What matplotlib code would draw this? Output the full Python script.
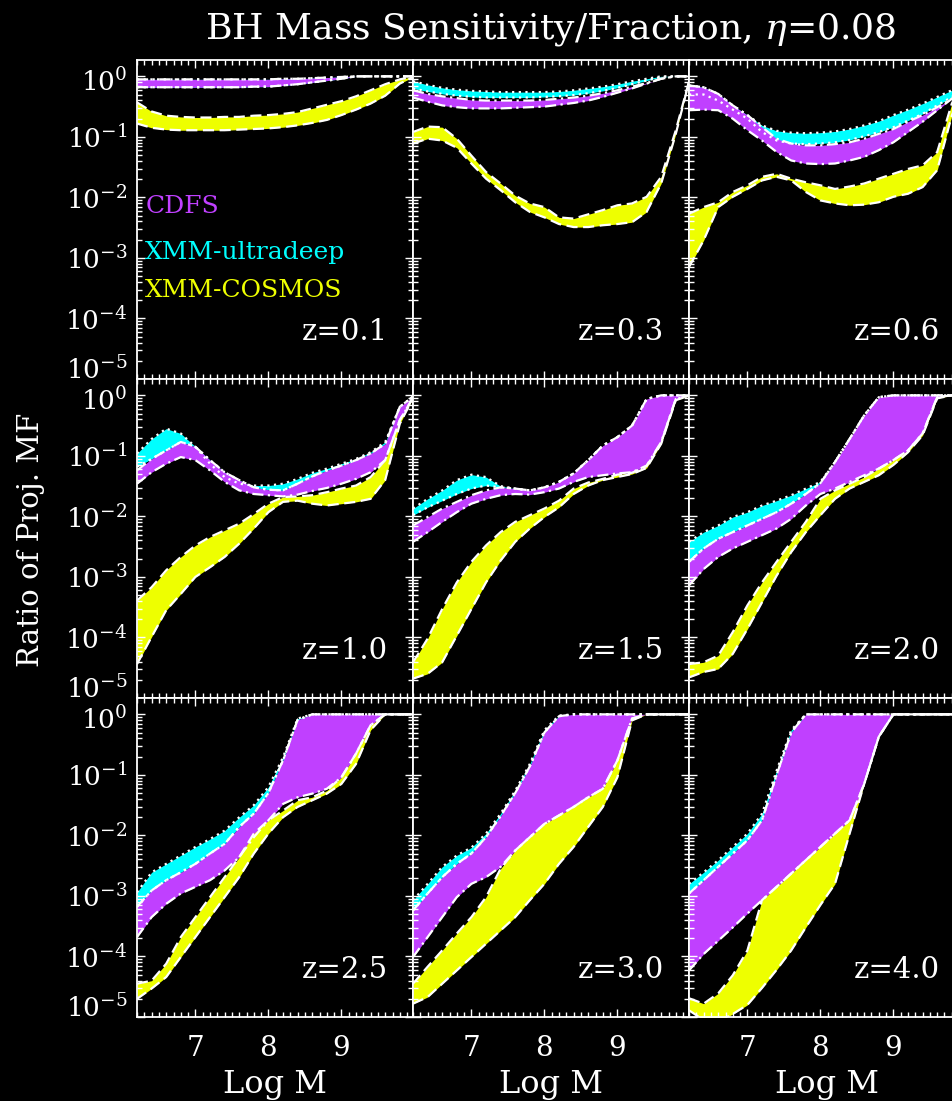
import matplotlib

matplotlib.use("Agg")
import matplotlib.pyplot as plt
import matplotlib.transforms as mtransforms
import numpy as np
from matplotlib.ticker import FixedLocator, LogLocator, MultipleLocator, NullFormatter

# Log M grid shared by every panel
log_m = [6.2, 6.4, 6.6, 6.8, 7.0, 7.2, 7.4, 7.6, 7.8, 8.0,
         8.2, 8.4, 8.6, 8.8, 9.0, 9.2, 9.4, 9.6, 9.8, 10.0]

redshifts = ["0.1", "0.3", "0.6", "1.0", "1.5", "2.0", "2.5", "3.0", "4.0"]

# log10 of the ratio, upper (hi) and lower (lo) edge of each band
# z = 0.1
z01_ultra_hi = [-0.05, -0.05, -0.05, -0.05, -0.05, -0.05, -0.05, -0.05, -0.05, -0.05, -0.04, -0.04, -0.03, -0.02, -0.01, 0, 0, 0, 0, 0]
z01_ultra_lo = [-0.18, -0.18, -0.18, -0.18, -0.18, -0.18, -0.18, -0.18, -0.17, -0.17, -0.15, -0.13, -0.10, -0.07, -0.04, 0, 0, 0, 0, 0]
z01_cdfs_hi = [-0.05, -0.05, -0.05, -0.05, -0.05, -0.05, -0.05, -0.05, -0.05, -0.05, -0.04, -0.04, -0.03, -0.02, -0.01, 0, 0, 0, 0, 0]
z01_cdfs_lo = [-0.18, -0.18, -0.18, -0.18, -0.18, -0.18, -0.18, -0.18, -0.17, -0.17, -0.15, -0.13, -0.10, -0.07, -0.04, 0, 0, 0, 0, 0]
z01_cosmos_hi = [-0.43, -0.58, -0.65, -0.67, -0.68, -0.68, -0.67, -0.67, -0.65, -0.64, -0.62, -0.59, -0.53, -0.47, -0.41, -0.33, -0.23, -0.13, -0.05, 0]
z01_cosmos_lo = [-0.78, -0.85, -0.88, -0.89, -0.89, -0.89, -0.89, -0.88, -0.87, -0.86, -0.84, -0.81, -0.77, -0.72, -0.64, -0.55, -0.45, -0.32, -0.12, 0]
# z = 0.3
z03_ultra_hi = [-0.08, -0.14, -0.19, -0.22, -0.24, -0.25, -0.26, -0.26, -0.26, -0.26, -0.25, -0.23, -0.20, -0.17, -0.13, -0.08, -0.04, 0, 0, 0]
z03_ultra_lo = [-0.20, -0.25, -0.29, -0.32, -0.34, -0.35, -0.35, -0.35, -0.35, -0.34, -0.33, -0.31, -0.28, -0.24, -0.19, -0.13, -0.07, -0.01, 0, 0]
z03_cdfs_hi = [-0.23, -0.29, -0.33, -0.36, -0.39, -0.40, -0.40, -0.40, -0.40, -0.39, -0.37, -0.35, -0.32, -0.28, -0.23, -0.17, -0.11, -0.04, 0, 0]
z03_cdfs_lo = [-0.35, -0.42, -0.48, -0.51, -0.53, -0.53, -0.53, -0.52, -0.51, -0.50, -0.47, -0.44, -0.40, -0.34, -0.27, -0.20, -0.12, -0.04, 0, 0]
z03_cosmos_hi = [-0.92, -0.83, -0.84, -1.03, -1.31, -1.58, -1.77, -1.97, -2.10, -2.16, -2.33, -2.35, -2.28, -2.21, -2.13, -2.10, -1.99, -1.66, -0.89, 0]
z03_cosmos_lo = [-1.11, -1.03, -1.06, -1.18, -1.44, -1.69, -1.88, -2.08, -2.24, -2.33, -2.44, -2.49, -2.49, -2.46, -2.44, -2.41, -2.24, -1.77, -0.95, 0]
# z = 0.6
z06_ultra_hi = [-0.15, -0.18, -0.29, -0.48, -0.64, -0.81, -0.90, -0.93, -0.94, -0.93, -0.91, -0.87, -0.81, -0.74, -0.64, -0.55, -0.45, -0.34, -0.23, -0.15]
z06_ultra_lo = [-0.30, -0.30, -0.40, -0.55, -0.70, -0.92, -1.06, -1.11, -1.12, -1.11, -1.09, -1.05, -0.99, -0.92, -0.84, -0.73, -0.62, -0.48, -0.34, -0.20]
z06_cdfs_hi = [-0.15, -0.18, -0.29, -0.48, -0.64, -0.84, -1.03, -1.11, -1.14, -1.14, -1.12, -1.09, -1.03, -0.95, -0.87, -0.75, -0.64, -0.51, -0.37, -0.23]
z06_cdfs_lo = [-0.56, -0.55, -0.56, -0.70, -0.89, -1.06, -1.25, -1.39, -1.44, -1.45, -1.44, -1.39, -1.33, -1.22, -1.09, -0.92, -0.75, -0.56, -0.37, -0.20]
z06_cosmos_hi = [-2.27, -2.16, -2.08, -1.91, -1.80, -1.66, -1.61, -1.69, -1.75, -1.80, -1.86, -1.82, -1.77, -1.69, -1.61, -1.53, -1.47, -1.25, -0.45, 0]
z06_cosmos_lo = [-3.15, -2.71, -2.16, -1.99, -1.86, -1.72, -1.66, -1.72, -1.91, -2.05, -2.10, -2.13, -2.12, -2.08, -1.99, -1.94, -1.83, -1.55, -0.65, 0]
# z = 1.0
z10_ultra_hi = [-0.96, -0.72, -0.55, -0.63, -0.85, -1.13, -1.35, -1.46, -1.49, -1.49, -1.46, -1.38, -1.28, -1.21, -1.13, -1.05, -0.94, -0.77, -0.19, 0]
z10_ultra_lo = [-1.18, -1.05, -0.91, -0.77, -0.85, -1.07, -1.27, -1.40, -1.52, -1.56, -1.57, -1.46, -1.34, -1.24, -1.16, -1.07, -0.96, -0.80, -0.19, 0]
z10_cdfs_hi = [-1.24, -1.05, -0.91, -0.77, -0.85, -1.07, -1.27, -1.40, -1.52, -1.56, -1.57, -1.46, -1.34, -1.24, -1.16, -1.07, -0.96, -0.80, -0.19, 0]
z10_cdfs_lo = [-1.46, -1.27, -1.13, -1.02, -1.07, -1.24, -1.43, -1.57, -1.63, -1.65, -1.67, -1.64, -1.58, -1.53, -1.46, -1.38, -1.27, -1.07, -0.41, 0]
z10_cosmos_hi = [-3.39, -3.17, -2.89, -2.67, -2.48, -2.34, -2.23, -2.12, -1.96, -1.79, -1.68, -1.67, -1.65, -1.60, -1.54, -1.49, -1.35, -1.07, -0.41, 0]
z10_cosmos_lo = [-4.44, -3.99, -3.55, -3.28, -3.00, -2.84, -2.67, -2.45, -2.20, -1.93, -1.76, -1.74, -1.79, -1.82, -1.79, -1.76, -1.71, -1.40, -0.47, 0]
# z = 1.5
z15_ultra_hi = [-1.87, -1.71, -1.57, -1.40, -1.31, -1.35, -1.50, -1.54, -1.57, -1.52, -1.43, -1.29, -1.07, -0.83, -0.69, -0.50, -0.06, 0, 0, 0]
z15_ultra_lo = [-1.98, -1.85, -1.74, -1.63, -1.54, -1.49, -1.52, -1.54, -1.57, -1.52, -1.43, -1.29, -1.07, -0.83, -0.69, -0.50, -0.06, 0, 0, 0]
z15_cdfs_hi = [-2.15, -2.01, -1.87, -1.76, -1.65, -1.57, -1.52, -1.54, -1.57, -1.52, -1.43, -1.29, -1.07, -0.83, -0.69, -0.50, -0.06, 0, 0, 0]
z15_cdfs_lo = [-2.42, -2.26, -2.09, -1.93, -1.79, -1.71, -1.65, -1.63, -1.64, -1.60, -1.54, -1.43, -1.35, -1.32, -1.29, -1.27, -1.16, -0.77, -0.06, 0]
z15_cosmos_hi = [-4.41, -4.02, -3.53, -3.09, -2.75, -2.48, -2.26, -2.09, -1.98, -1.87, -1.74, -1.54, -1.44, -1.38, -1.31, -1.28, -1.17, -0.78, -0.06, 0]
z15_cosmos_lo = [-4.68, -4.60, -4.41, -3.97, -3.53, -3.09, -2.73, -2.42, -2.20, -2.01, -1.85, -1.63, -1.49, -1.40, -1.35, -1.30, -1.20, -0.80, -0.08, 0]
# z = 2.0
z20_ultra_hi = [-2.42, -2.26, -2.15, -2.01, -1.93, -1.82, -1.74, -1.65, -1.54, -1.43, -1.10, -0.72, -0.33, -0.03, 0, 0, 0, 0, 0, 0]
z20_ultra_lo = [-2.75, -2.53, -2.37, -2.26, -2.15, -2.04, -1.93, -1.79, -1.63, -1.45, -1.10, -0.72, -0.33, -0.03, 0, 0, 0, 0, 0, 0]
z20_cdfs_hi = [-2.75, -2.53, -2.37, -2.26, -2.15, -2.04, -1.93, -1.79, -1.63, -1.45, -1.10, -0.72, -0.33, -0.03, 0, 0, 0, 0, 0, 0]
z20_cdfs_lo = [-3.14, -2.87, -2.67, -2.53, -2.42, -2.31, -2.20, -2.04, -1.82, -1.63, -1.54, -1.43, -1.32, -1.21, -1.07, -0.91, -0.63, -0.03, 0, 0]
z20_cosmos_hi = [-4.44, -4.41, -4.30, -3.91, -3.47, -3.09, -2.75, -2.42, -2.09, -1.71, -1.57, -1.46, -1.35, -1.21, -1.07, -0.91, -0.63, -0.03, 0, 0]
z20_cosmos_lo = [-4.66, -4.57, -4.52, -4.27, -3.86, -3.42, -2.98, -2.59, -2.26, -1.98, -1.71, -1.54, -1.43, -1.32, -1.15, -0.94, -0.66, -0.05, 0, 0]
# z = 2.5
z25_ultra_hi = [-2.94, -2.61, -2.47, -2.33, -2.19, -2.06, -1.92, -1.70, -1.50, -1.20, -0.71, -0.07, 0, 0, 0, 0, 0, 0, 0, 0]
z25_ultra_lo = [-3.18, -2.91, -2.74, -2.61, -2.47, -2.30, -2.14, -1.86, -1.64, -1.30, -0.76, -0.09, 0, 0, 0, 0, 0, 0, 0, 0]
z25_cdfs_hi = [-3.18, -2.91, -2.74, -2.61, -2.47, -2.30, -2.14, -1.86, -1.64, -1.30, -0.76, -0.09, 0, 0, 0, 0, 0, 0, 0, 0]
z25_cdfs_lo = [-3.68, -3.35, -3.13, -2.96, -2.85, -2.74, -2.58, -2.36, -2.03, -1.75, -1.48, -1.37, -1.31, -1.23, -1.04, -0.65, -0.18, 0, 0, 0]
z25_cosmos_hi = [-4.45, -4.40, -4.12, -3.68, -3.35, -3.02, -2.69, -2.36, -1.97, -1.75, -1.59, -1.42, -1.37, -1.26, -1.04, -0.65, -0.18, 0, 0, 0]
z25_cosmos_lo = [-4.70, -4.53, -4.34, -4.01, -3.68, -3.35, -3.02, -2.69, -2.30, -1.97, -1.70, -1.53, -1.42, -1.31, -1.15, -0.82, -0.26, 0, 0, 0]
# z = 3.0
z30_ultra_hi = [-3.07, -2.80, -2.52, -2.33, -2.20, -1.97, -1.64, -1.26, -0.82, -0.26, -0.02, 0, 0, 0, 0, 0, 0, 0, 0, 0]
z30_ultra_lo = [-3.24, -2.96, -2.69, -2.47, -2.30, -2.03, -1.68, -1.30, -0.86, -0.30, -0.03, 0, 0, 0, 0, 0, 0, 0, 0, 0]
z30_cdfs_hi = [-3.24, -2.96, -2.69, -2.47, -2.30, -2.03, -1.68, -1.30, -0.86, -0.30, -0.03, 0, 0, 0, 0, 0, 0, 0, 0, 0]
z30_cdfs_lo = [-4.01, -3.68, -3.35, -3.02, -2.80, -2.69, -2.52, -2.25, -2.03, -1.81, -1.67, -1.53, -1.37, -1.23, -0.76, -0.07, 0, 0, 0, 0]
z30_cosmos_hi = [-4.45, -4.17, -3.90, -3.62, -3.35, -3.02, -2.55, -2.25, -2.03, -1.81, -1.67, -1.53, -1.37, -1.23, -0.76, -0.07, 0, 0, 0, 0]
z30_cosmos_lo = [-4.78, -4.67, -4.45, -4.23, -4.01, -3.79, -3.57, -3.35, -3.07, -2.80, -2.47, -2.19, -1.86, -1.53, -1.04, -0.10, 0, 0, 0, 0]
# z = 4.0
z40_ultra_hi = [-2.80, -2.61, -2.41, -2.19, -1.97, -1.64, -0.93, -0.26, 0, 0, 0, 0, 0, 0, 0, 0, 0, 0, 0, 0]
z40_ultra_lo = [-2.96, -2.74, -2.52, -2.30, -2.08, -1.75, -1.00, -0.30, 0, 0, 0, 0, 0, 0, 0, 0, 0, 0, 0, 0]
z40_cdfs_hi = [-2.96, -2.74, -2.52, -2.30, -2.08, -1.75, -1.00, -0.30, 0, 0, 0, 0, 0, 0, 0, 0, 0, 0, 0, 0]
z40_cdfs_lo = [-4.23, -3.96, -3.74, -3.52, -3.29, -3.07, -2.85, -2.63, -2.41, -2.19, -1.97, -1.75, -1.15, -0.37, 0, 0, 0, 0, 0, 0]
z40_cosmos_hi = [-4.69, -4.78, -4.61, -4.31, -3.90, -3.07, -2.85, -2.63, -2.41, -2.19, -1.97, -1.75, -1.15, -0.37, 0, 0, 0, 0, 0, 0]
z40_cosmos_lo = [-4.89, -5.05, -5.08, -4.95, -4.80, -4.52, -4.22, -3.90, -3.52, -3.15, -2.80, -1.97, -1.15, -0.37, 0, 0, 0, 0, 0, 0]

ultra_hi = [z01_ultra_hi, z03_ultra_hi, z06_ultra_hi, z10_ultra_hi, z15_ultra_hi, z20_ultra_hi, z25_ultra_hi, z30_ultra_hi, z40_ultra_hi]
ultra_lo = [z01_ultra_lo, z03_ultra_lo, z06_ultra_lo, z10_ultra_lo, z15_ultra_lo, z20_ultra_lo, z25_ultra_lo, z30_ultra_lo, z40_ultra_lo]
cdfs_hi = [z01_cdfs_hi, z03_cdfs_hi, z06_cdfs_hi, z10_cdfs_hi, z15_cdfs_hi, z20_cdfs_hi, z25_cdfs_hi, z30_cdfs_hi, z40_cdfs_hi]
cdfs_lo = [z01_cdfs_lo, z03_cdfs_lo, z06_cdfs_lo, z10_cdfs_lo, z15_cdfs_lo, z20_cdfs_lo, z25_cdfs_lo, z30_cdfs_lo, z40_cdfs_lo]
cosmos_hi = [z01_cosmos_hi, z03_cosmos_hi, z06_cosmos_hi, z10_cosmos_hi, z15_cosmos_hi, z20_cosmos_hi, z25_cosmos_hi, z30_cosmos_hi, z40_cosmos_hi]
cosmos_lo = [z01_cosmos_lo, z03_cosmos_lo, z06_cosmos_lo, z10_cosmos_lo, z15_cosmos_lo, z20_cosmos_lo, z25_cosmos_lo, z30_cosmos_lo, z40_cosmos_lo]

# (name, colour, edge linestyle, hi, lo) in drawing order
surveys = [
    ("XMM-ultradeep", "#00ffff", (0, (1, 2)), ultra_hi, ultra_lo),
    ("CDFS", "#c040ff", (0, (5, 2, 1, 2)), cdfs_hi, cdfs_lo),
    ("XMM-COSMOS", "#eeff00", (0, (5, 2.5)), cosmos_hi, cosmos_lo),
]

plt.rcParams["font.family"] = ["DejaVu Serif"]
plt.rcParams["mathtext.fontset"] = "dejavuserif"

W, H = 953, 1101
LEFT, TOP, PW, PH = 137, 60, 276, 319
X_UNIT = 73.0

fig = plt.figure(figsize=(W / 100, H / 100), dpi=100, facecolor="black")

for i, z in enumerate(redshifts):
    fila, col = divmod(i, 3)
    ax = fig.add_axes([
        (LEFT + col * PW) / W,
        1 - (TOP + (fila + 1) * PH) / H,
        PW / W,
        PH / H,
    ])
    ax.set_facecolor("black")

    for nombre, color, estilo, hi, lo in surveys:
        y_hi = 10.0 ** np.array(hi[i])
        y_lo = 10.0 ** np.array(lo[i])
        ax.fill_between(log_m, y_lo, y_hi, color=color, linewidth=0)
        for y in (y_hi, y_lo):
            ax.plot(log_m, y, color="white", linewidth=1.6, linestyle=estilo)

    ax.set_yscale("log")
    ax.set_xlim(6.2, 6.2 + PW / X_UNIT)
    ax.set_ylim(1e-5, 10 ** 0.27)

    ax.xaxis.set_major_locator(FixedLocator([7, 8, 9]))
    ax.xaxis.set_minor_locator(MultipleLocator(0.1))
    ax.yaxis.set_major_locator(LogLocator(base=10, numticks=10))
    ax.yaxis.set_minor_locator(LogLocator(base=10, subs=np.arange(2, 10), numticks=20))
    ax.yaxis.set_minor_formatter(NullFormatter())

    ax.tick_params(which="both", direction="in", colors="white", top=True, right=True, width=1)
    ax.tick_params(which="major", length=6)
    ax.tick_params(which="minor", length=3.5)
    ax.tick_params(axis="x", labelsize=20, pad=13)
    ax.tick_params(axis="y", labelsize=19, pad=7)
    for lado in ax.spines.values():
        lado.set_color("white")
        lado.set_linewidth(1.3)

    if fila < 2:
        ax.set_xticklabels([])
    if col > 0:
        ax.set_yticklabels([])
    else:
        ax.set_yticks([1e-5, 1e-4, 1e-3, 1e-2, 1e-1, 1])
        ax.set_yticklabels([r"$10^{%d}$" % k for k in range(-5, 1)])
        etiquetas = ax.get_yticklabels()
        subir = mtransforms.ScaledTranslation(0, 11 / 100, fig.dpi_scale_trans)
        bajar = mtransforms.ScaledTranslation(0, -3 / 100, fig.dpi_scale_trans)
        etiquetas[0].set_transform(etiquetas[0].get_transform() + subir)
        etiquetas[-1].set_transform(etiquetas[-1].get_transform() + bajar)

    ax.text(0.909, 0.147, f"z={z}", transform=ax.transAxes, ha="right", va="center",
            color="white", fontsize=21)

    if i == 0:
        for texto, color, y in (("CDFS", "#c040ff", 0.542),
                                ("XMM-ultradeep", "#00ffff", 0.395),
                                ("XMM-COSMOS", "#eeff00", 0.276)):
            ax.text(0.03, y, texto, transform=ax.transAxes, ha="left", va="center",
                    color=color, fontsize=18)

    if fila == 2:
        fig.text((LEFT + col * PW + PW / 2) / W, 1 - 1085 / H, "Log M",
                 ha="center", va="center", color="white", fontsize=23)

fig.text(551 / W, 1 - 30 / H, r"BH Mass Sensitivity/Fraction, $\eta$=0.08",
         ha="center", va="center", color="white", fontsize=26)
fig.text(31 / W, 1 - 540 / H, "Ratio of Proj. MF", rotation=90,
         ha="center", va="center", color="white", fontsize=21)

fig.savefig("out.png", dpi=100, facecolor="black")
